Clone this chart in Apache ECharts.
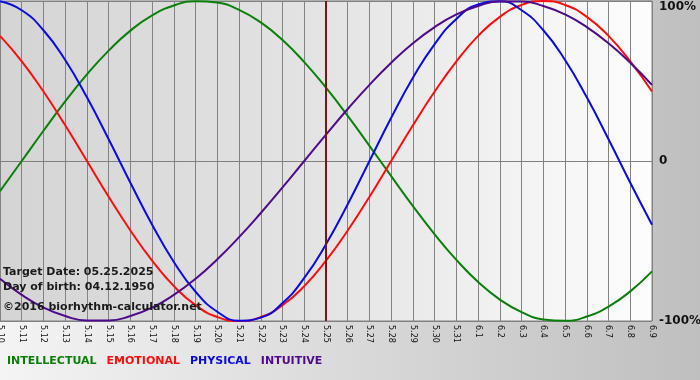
<!DOCTYPE html>
<html>
<head>
<meta charset="utf-8">
<script src="https://cdn.jsdelivr.net/npm/echarts@6/dist/echarts.min.js"></script>
<style>
html,body{margin:0;padding:0;}
#c{width:700px;height:380px;}
</style>
</head>
<body>
<div id="c"></div>
<script>
var days = ['5.10','5.11','5.12','5.13','5.14','5.15','5.16','5.17','5.18','5.19','5.20','5.21','5.22','5.23','5.24','5.25','5.26','5.27','5.28','5.29','5.30','5.31','6.1','6.2','6.3','6.4','6.5','6.6','6.7','6.8','6.9'];
var intellectual = [-18.9, 0, 18.9, 37.2, 54.1, 69.0, 81.5, 91.0, 97.2, 99.9, 99.0, 94.5, 86.6, 75.6, 61.8, 45.8, 28.2, 9.5, -9.5, -28.2, -45.8, -61.8, -75.6, -86.6, -94.5, -99.0, -99.9, -97.2, -91.0, -81.5, -69.0];
var emotional = [78.2, 62.3, 43.4, 22.3, 0, -22.3, -43.4, -62.3, -78.2, -90.1, -97.5, -100, -97.5, -90.1, -78.2, -62.3, -43.4, -22.3, 0, 22.3, 43.4, 62.3, 78.2, 90.1, 97.5, 100, 97.5, 90.1, 78.2, 62.3, 43.4];
var physical = [99.8, 94.2, 81.7, 63.1, 39.8, 13.6, -13.6, -39.8, -63.1, -81.7, -94.2, -99.8, -97.9, -88.8, -73.1, -52.0, -27.0, 0, 27.0, 52.0, 73.1, 88.8, 97.9, 99.8, 94.2, 81.7, 63.1, 39.8, 13.6, -13.6, -39.8];
var intuitive = [-73.6, -83.7, -91.6, -96.9, -99.7, -99.7, -96.9, -91.6, -83.7, -73.6, -61.4, -47.6, -32.5, -16.5, 0, 16.5, 32.5, 47.6, 61.4, 73.6, 83.7, 91.6, 96.9, 99.7, 99.7, 96.9, 91.6, 83.7, 73.6, 61.4, 47.6];
var targetDay = '5.25';
var yTicks = {'100': '100%', '0': '0', '-100': '-100%'};
var infoLines = ['Target Date: 05.25.2025', 'Day of birth: 04.12.1950', '\u00A92016 biorhythm-calculator.net'];

var colors = {INTELLECTUAL:'#0a800a', EMOTIONAL:'#ff0d0d', PHYSICAL:'#0a0ae6', INTUITIVE:'#4e0a8c'};
var font = 'DejaVu Sans, Verdana, sans-serif';

function mkSeries(name, data, extra) {
  var s = {
    name: name, type: 'line', data: data, smooth: 0.5, symbol: 'none',
    lineStyle: {color: colors[name], width: 2}, itemStyle: {color: colors[name]},
    animation: false
  };
  if (extra) for (var k in extra) s[k] = extra[k];
  return s;
}

var chart = echarts.init(document.getElementById('c'));
chart.setOption({
  animation: false,
  backgroundColor: {type:'linear', x:0, y:0, x2:1, y2:0, colorStops:[{offset:0, color:'#f4f4f4'},{offset:1, color:'#bfbfbf'}]},
  grid: {
    left: 0, right: 48, top: 1, bottom: 59, show: true, containLabel: false, outerBoundsMode: 'none',
    backgroundColor: {type:'linear', x:0, y:0, x2:1, y2:0, colorStops:[{offset:0, color:'#d4d4d4'},{offset:0.5, color:'#e4e4e4'},{offset:1, color:'#fdfdfd'}]},
    borderColor: '#808080', borderWidth: 1
  },
  legend: {
    left: 2, top: 354, padding: 0, icon: 'none', itemWidth: 0, itemHeight: 14, itemGap: 5,
    selectedMode: false,
    textStyle: {fontFamily: font, fontSize: 11, fontWeight: 'bold'},
    data: ['INTELLECTUAL','EMOTIONAL','PHYSICAL','INTUITIVE'].map(function(n){
      return {name: n, textStyle: {color: colors[n]}};
    })
  },
  xAxis: {
    type: 'category', data: days, boundaryGap: false,
    axisLine: {lineStyle: {color: '#808080'}},
    axisTick: {show: true, length: 4, lineStyle: {color: '#808080'}},
    splitLine: {show: true, interval: 0, lineStyle: {color: '#838383', width: 1}},
    axisLabel: {interval: 0, rotate: -90, margin: 4, fontFamily: font, fontSize: 8, color: '#111'}
  },
  yAxis: {
    type: 'value', min: -100, max: 100, interval: 100, position: 'right',
    axisLine: {show: false}, axisTick: {show: false},
    splitLine: {show: true, lineStyle: {color: '#808080', width: 1}},
    axisLabel: {
      margin: 7, fontFamily: font, fontSize: 12, fontWeight: 'bold', color: '#111', align: 'left',
      formatter: function(v){ var t = yTicks[String(v)]; return v === 100 ? '{t|' + t + '}' : t; },
      rich: {t: {padding: [12, 0, 0, 0], fontFamily: font, fontSize: 12, fontWeight: 'bold', color: '#111'}}
    }
  },
  graphic: infoLines.map(function(txt, i){
    return {
      type: 'text', left: 3, top: [267, 282, 302][i], z: 100,
      style: {text: txt, fill: '#1a1a1a', font: 'bold 11px ' + font}
    };
  }),
  series: [
    mkSeries('INTELLECTUAL', intellectual),
    mkSeries('EMOTIONAL', emotional),
    mkSeries('PHYSICAL', physical),
    mkSeries('INTUITIVE', intuitive, {
      markLine: {
        silent: true, symbol: 'none', label: {show: false},
        lineStyle: {color: '#7d1515', width: 2, type: 'solid'},
        data: [{xAxis: targetDay}]
      }
    })
  ]
});
</script>
</body>
</html>
